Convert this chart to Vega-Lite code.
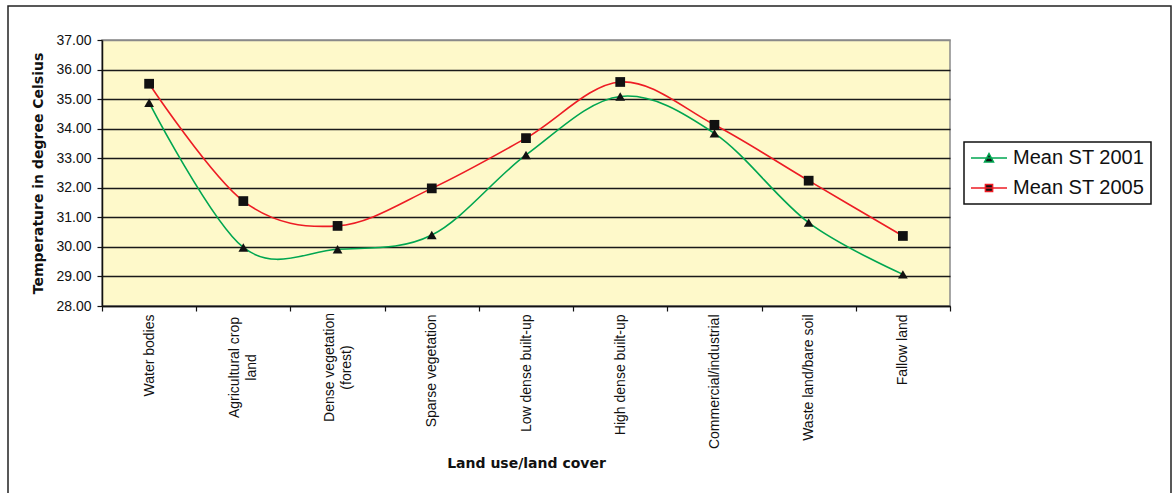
{
  "$schema": "https://vega.github.io/schema/vega-lite/v6.json",
  "width": 848,
  "height": 266,
  "autosize": {"type": "none"},
  "padding": {"left": 102, "top": 40, "right": 222, "bottom": 187},
  "background": "white",
  "data": {
    "values": [
      {"landuse": "Water bodies", "series": "Mean ST 2001", "temp": 34.88},
      {"landuse": "Agricultural crop land", "series": "Mean ST 2001", "temp": 29.98},
      {"landuse": "Dense vegetation (forest)", "series": "Mean ST 2001", "temp": 29.92},
      {"landuse": "Sparse vegetation", "series": "Mean ST 2001", "temp": 30.4},
      {"landuse": "Low dense built-up", "series": "Mean ST 2001", "temp": 33.11},
      {"landuse": "High dense built-up", "series": "Mean ST 2001", "temp": 35.09},
      {"landuse": "Commercial/industrial", "series": "Mean ST 2001", "temp": 33.84},
      {"landuse": "Waste land/bare soil", "series": "Mean ST 2001", "temp": 30.82},
      {"landuse": "Fallow land", "series": "Mean ST 2001", "temp": 29.07},
      {"landuse": "Water bodies", "series": "Mean ST 2005", "temp": 35.52},
      {"landuse": "Agricultural crop land", "series": "Mean ST 2005", "temp": 31.55},
      {"landuse": "Dense vegetation (forest)", "series": "Mean ST 2005", "temp": 30.71},
      {"landuse": "Sparse vegetation", "series": "Mean ST 2005", "temp": 31.98},
      {"landuse": "Low dense built-up", "series": "Mean ST 2005", "temp": 33.68},
      {"landuse": "High dense built-up", "series": "Mean ST 2005", "temp": 35.58},
      {"landuse": "Commercial/industrial", "series": "Mean ST 2005", "temp": 34.13},
      {"landuse": "Waste land/bare soil", "series": "Mean ST 2005", "temp": 32.24},
      {"landuse": "Fallow land", "series": "Mean ST 2005", "temp": 30.37}
    ]
  },
  "encoding": {
    "x": {
      "field": "landuse",
      "type": "nominal",
      "sort": null,
      "bandPosition": 0.5,
      "scale": {"type": "band", "paddingInner": 0, "paddingOuter": 0},
      "title": "Land use/land cover",
      "axis": {
        "labelAngle": 270,
        "labelExpr": "datum.value == 'Agricultural crop land' ? ['Agricultural crop', 'land'] : datum.value == 'Dense vegetation (forest)' ? ['Dense vegetation', '(forest)'] : datum.label",
        "labelOffset": {"condition": {"test": "datum.value == 'Agricultural crop land' || datum.value == 'Dense vegetation (forest)'", "value": -8.5}, "value": 0},
        "labelAlign": {"condition": {"test": "datum.value == 'Agricultural crop land' || datum.value == 'Dense vegetation (forest)'", "value": "center"}, "value": "right"},
        "labelPadding": {"condition": {"test": "datum.value == 'Agricultural crop land' || datum.value == 'Dense vegetation (forest)'", "value": 56}, "value": 3},
        "labelFont": "Liberation Sans",
        "labelFontSize": 14,
        "labelColor": "#111",
        "labelLineHeight": 17,
        "tickBand": "extent",
        "tickSize": 5,
        "tickColor": "#111",
        "tickWidth": 1.2,
        "domainColor": "#111",
        "domainWidth": 1.5,
        "titleFont": "DejaVu Sans",
        "titleFontSize": 14,
        "titleFontWeight": "bold",
        "titleColor": "#111",
        "titlePadding": 8
      }
    },
    "y": {
      "field": "temp",
      "type": "quantitative",
      "scale": {"domain": [28, 37], "nice": false, "zero": false},
      "title": "Temperature in degree Celsius",
      "axis": {
        "values": [28, 29, 30, 31, 32, 33, 34, 35, 36, 37],
        "format": ".2f",
        "labelFont": "Liberation Sans",
        "labelFontSize": 14,
        "labelColor": "#111",
        "labelPadding": 6,
        "tickSize": 5,
        "tickColor": "#111",
        "tickWidth": 1.2,
        "domainColor": "#111",
        "domainWidth": 1.5,
        "grid": true,
        "gridColor": {"condition": {"test": "datum.value == 37", "value": "#8a8a8a"}, "value": "#1a1a1a"},
        "gridWidth": 1.7,
        "titleFont": "DejaVu Sans",
        "titleFontSize": 14,
        "titleFontWeight": "bold",
        "titleColor": "#111",
        "titlePadding": 10
      }
    }
  },
  "layer": [
    {
      "mark": {"type": "point", "opacity": 0},
      "encoding": {
        "fill": {
          "field": "temp",
          "type": "quantitative",
          "scale": {"range": ["white", "white"]},
          "legend": {
            "type": "gradient",
            "orient": "none",
            "legendX": -94,
            "legendY": -34,
            "direction": "horizontal",
            "gradientLength": 1163,
            "gradientThickness": 500,
            "gradientOpacity": 0,
            "gradientStrokeWidth": 0,
            "labelExpr": "''",
            "labelFontSize": 1,
            "title": null,
            "padding": 0,
            "strokeColor": "#222",
            "encode": {"legend": {"update": {"strokeWidth": {"value": 1.5}}}}
          }
        }
      }
    },
    {
      "mark": {"type": "line", "interpolate": "cardinal", "strokeWidth": 1.6},
      "encoding": {
        "color": {
          "field": "series",
          "type": "nominal",
          "scale": {"domain": ["Mean ST 2001", "Mean ST 2005"], "range": ["#00A651", "#ED1C24"]},
          "legend": {
            "title": null,
            "orient": "none",
            "legendX": 862,
            "legendY": 102,
            "padding": 6,
            "strokeColor": "#111",
            "fillColor": "white",
            "labelFont": "Liberation Sans",
            "labelFontSize": 20,
            "labelColor": "#111",
            "labelOffset": 23,
            "rowPadding": 10,
            "symbolSize": 324,
            "symbolStrokeWidth": 1.5,
            "encode": {
              "legend": {"update": {"strokeWidth": {"value": 1.5}}},
              "symbols": {
                "update": {
                  "shape": {"signal": "datum.value === 'Mean ST 2001' ? 'M-1,0H3M0.5,0.45L1,-0.5L1.5,0.45Z' : 'M-1,0H3M0.6,-0.4H1.4V0.4H0.6Z'"},
                  "fill": {"value": "#111"}
                }
              }
            }
          }
        }
      }
    },
    {
      "mark": {"type": "point", "filled": true, "opacity": 1, "size": 95, "color": "#111"},
      "encoding": {
        "shape": {"condition": {"test": "datum.series === 'Mean ST 2001'", "value": "triangle-up"}, "value": "square"}
      }
    }
  ],
  "config": {
    "view": {"fill": "#FEF9CA", "stroke": "#8a8a8a", "strokeWidth": 1.5}
  }
}
